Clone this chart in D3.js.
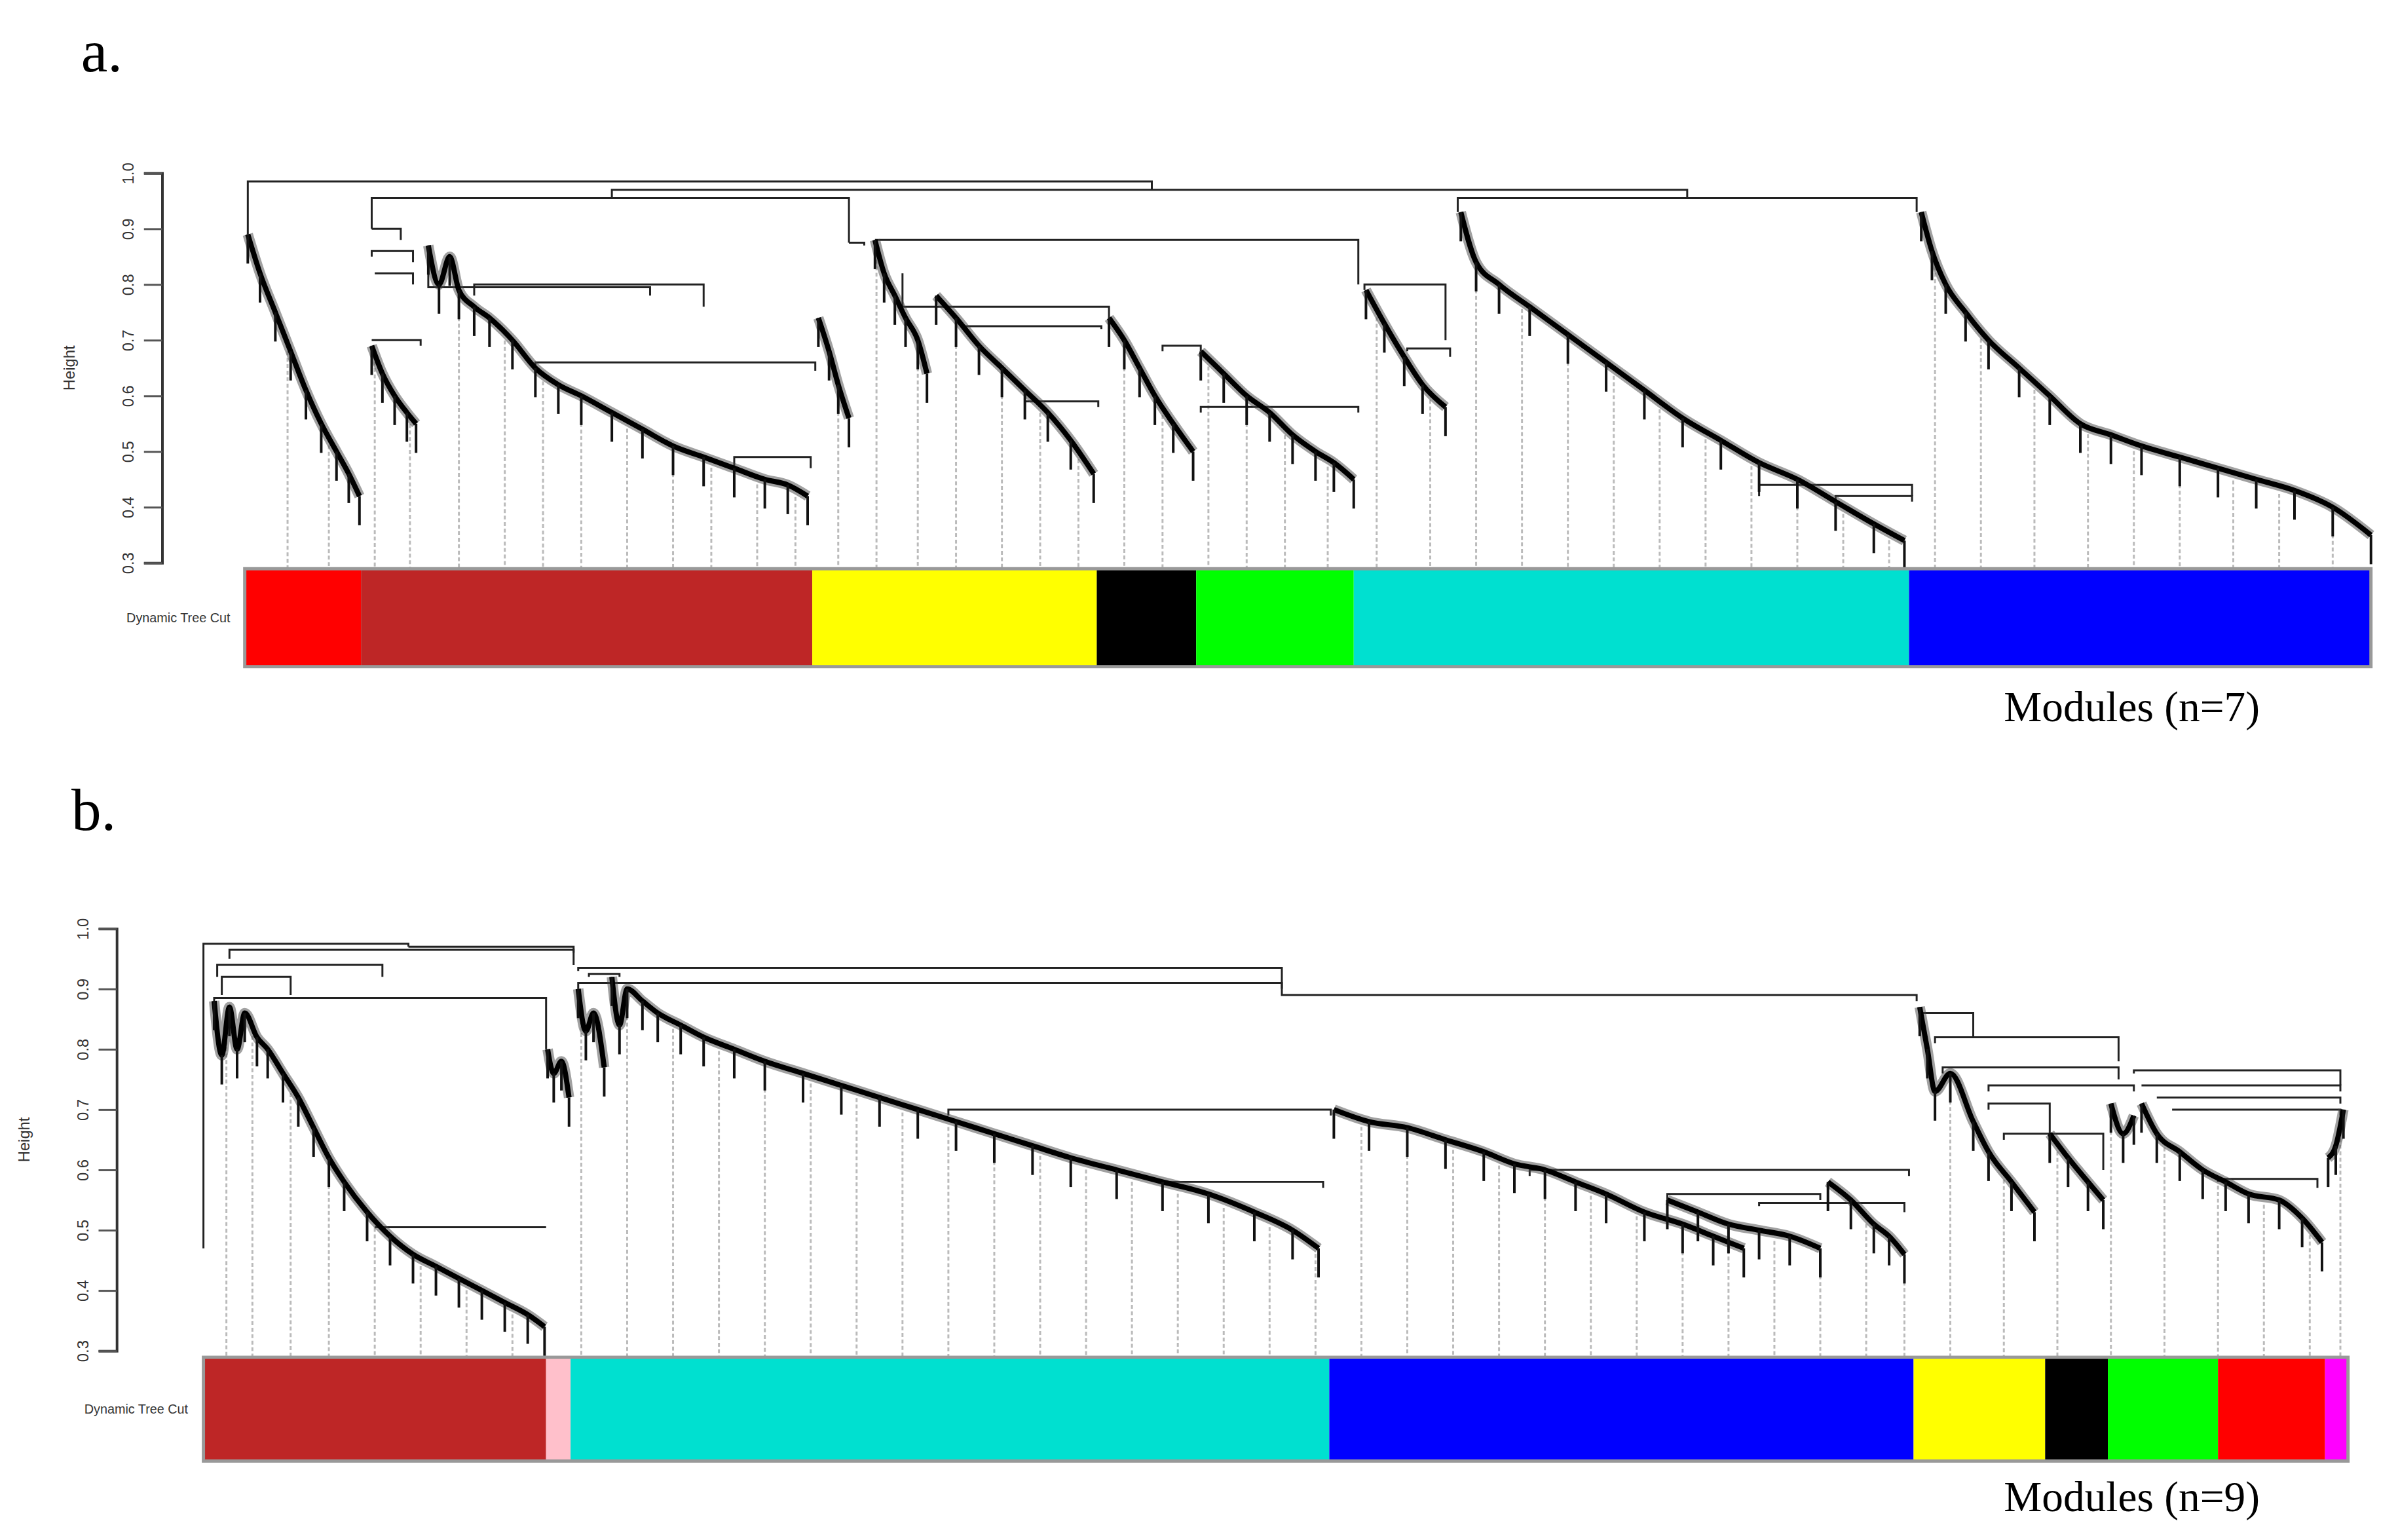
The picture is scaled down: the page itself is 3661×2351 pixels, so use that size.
<!DOCTYPE html>
<html><head><meta charset="utf-8">
<script src="https://cdn.jsdelivr.net/npm/d3@7"></script>
<style>body{margin:0;background:#fff}</style>
</head><body>
<script>
// leaf positions are in "leaf units" (0..1552 across the figure), heights in dendrogram height
var W = 3661, H = 2351;

// ---- panel a ----
var modulesA = [
  {color: "#FF0000", from: 160, to: 236},
  {color: "#BE2626", from: 236, to: 531},
  {color: "#FFFF00", from: 531, to: 717},
  {color: "#000000", from: 717, to: 782},
  {color: "#00FF00", from: 782, to: 885},
  {color: "#00E0D0", from: 885, to: 1248},
  {color: "#0000FF", from: 1248, to: 1550}
];
var curvesA = [
  [[162,.89],[170,.82],[180,.75],[190,.68],[200,.61],[210,.55],[220,.5],[228,.46],[235,.42]],
  [[243,.69],[250,.64],[258,.6],[266,.57],[272,.55]],
  [[280,.87],[287,.8],[294,.85],[300,.79],[310,.76],[320,.74],[335,.7],[350,.65],[365,.62],[380,.6],[400,.57],[420,.54],[440,.51],[460,.49],[480,.47],[500,.45],[515,.44],[528,.42]],
  [[535,.74],[542,.68],[548,.62],[555,.56]],
  [[572,.88],[578,.82],[585,.78],[592,.74],[600,.7],[606,.64]],
  [[612,.78],[625,.74],[640,.69],[655,.65],[670,.61],[685,.57],[700,.52],[715,.46]],
  [[725,.74],[735,.7],[745,.65],[755,.6],[767,.55],[780,.5]],
  [[785,.68],[800,.64],[815,.6],[830,.57],[845,.53],[860,.5],[872,.48],[885,.45]],
  [[893,.79],[905,.73],[918,.67],[930,.62],[945,.58]],
  [[955,.93],[965,.84],[980,.8],[1000,.76],[1025,.71],[1050,.66],[1075,.61],[1100,.56],[1125,.52],[1150,.48],[1175,.45],[1200,.41],[1225,.37],[1245,.34]],
  [[1256,.93],[1263,.86],[1272,.8],[1285,.75],[1300,.7],[1320,.65],[1340,.6],[1360,.55],[1380,.53],[1400,.51],[1425,.49],[1450,.47],[1475,.45],[1500,.43],[1525,.4],[1550,.35]]
];
// merges: [leftLeaf, leftHeight, rightLeaf, rightHeight, mergeHeight]
var mergesA = [
  [162,.89,753,.97,.985],
  [400,.955,1103,.955,.97],
  [243,.9,555,.875,.955],
  [953,.93,1253,.93,.955],
  [555,.875,565,.87,.875],
  [243,.9,262,.88,.9],
  [243,.85,270,.84,.86],
  [245,.82,270,.8,.82],
  [243,.7,275,.69,.7],
  [280,.87,425,.78,.795],
  [310,.78,460,.76,.8],
  [350,.65,533,.645,.66],
  [480,.47,530,.47,.49],
  [572,.88,888,.8,.88],
  [590,.82,725,.74,.76],
  [630,.72,720,.72,.725],
  [670,.58,718,.58,.59],
  [760,.68,785,.68,.69],
  [785,.57,888,.57,.58],
  [892,.79,945,.7,.8],
  [920,.68,948,.67,.685],
  [1150,.42,1250,.42,.44],
  [1200,.41,1250,.41,.42]
];
var guidesA = [188,215,245,268,300,330,355,380,410,440,465,495,520,548,573,600,625,655,680,705,735,760,790,815,840,868,900,935,965,995,1025,1055,1085,1115,1145,1175,1205,1235,1265,1295,1330,1365,1395,1425,1460,1490,1525];

// ---- panel b ----
var modulesB = [
  {color: "#BE2626", from: 133, to: 357},
  {color: "#FFC0CB", from: 357, to: 373},
  {color: "#00E0D0", from: 373, to: 869},
  {color: "#0000FF", from: 869, to: 1251},
  {color: "#FFFF00", from: 1251, to: 1337},
  {color: "#000000", from: 1337, to: 1378},
  {color: "#00FF00", from: 1378, to: 1450},
  {color: "#FF0000", from: 1450, to: 1520},
  {color: "#FF00FF", from: 1520, to: 1535}
];
var curvesB = [
  [[140,.88],[145,.79],[150,.87],[155,.8],[160,.86],[168,.82],[175,.8],[185,.76],[195,.72],[205,.67],[215,.62],[225,.58],[240,.53],[255,.49],[270,.46],[285,.44],[300,.42],[315,.4],[330,.38],[345,.36],[356,.34]],
  [[358,.8],[362,.76],[367,.78],[372,.72]],
  [[378,.9],[383,.83],[388,.86],[395,.77]],
  [[400,.92],[405,.84],[410,.9],[420,.88],[430,.86],[445,.84],[460,.82],[480,.8],[500,.78],[525,.76],[550,.74],[575,.72],[600,.7],[625,.68],[650,.66],[675,.64],[700,.62],[730,.6],[760,.58],[790,.56],[820,.53],[845,.5],[862,.47]],
  [[872,.7],[895,.68],[920,.67],[945,.65],[970,.63],[990,.61],[1010,.6],[1030,.58],[1050,.56],[1075,.53],[1100,.51],[1120,.49],[1140,.47]],
  [[1090,.55],[1110,.53],[1130,.51],[1150,.5],[1170,.49],[1190,.47]],
  [[1195,.58],[1210,.55],[1225,.51],[1235,.49],[1245,.46]],
  [[1255,.87],[1260,.8],[1265,.73],[1275,.76],[1290,.68],[1300,.63],[1315,.58],[1330,.53]],
  [[1340,.66],[1352,.62],[1365,.58],[1375,.55]],
  [[1380,.71],[1388,.66],[1395,.69]],
  [[1400,.71],[1410,.66],[1425,.63],[1440,.6],[1455,.58],[1470,.56],[1490,.55],[1505,.52],[1518,.48]],
  [[1522,.62],[1527,.64],[1532,.7]]
];
var mergesB = [
  [133,.47,267,.97,.975],
  [267,.97,375,.96,.97],
  [150,.95,375,.94,.965],
  [142,.92,250,.92,.94],
  [145,.89,190,.89,.92],
  [140,.88,357,.8,.885],
  [245,.505,357,.505,.505],
  [378,.93,838,.9,.935],
  [385,.92,405,.92,.925],
  [400,.92,838,.9,.91],
  [838,.9,1253,.88,.89],
  [378,.9,400,.9,.91],
  [620,.69,870,.69,.7],
  [760,.57,865,.57,.58],
  [1000,.59,1248,.59,.6],
  [1090,.55,1190,.55,.56],
  [1150,.54,1245,.53,.545],
  [1255,.85,1290,.82,.86],
  [1265,.81,1385,.78,.82],
  [1270,.76,1385,.75,.77],
  [1300,.73,1395,.73,.74],
  [1300,.7,1340,.66,.71],
  [1310,.65,1375,.6,.66],
  [1395,.76,1530,.74,.765],
  [1400,.74,1530,.73,.74],
  [1410,.72,1530,.71,.72],
  [1420,.7,1530,.69,.7],
  [1450,.58,1515,.57,.585]
];
var guidesB = [148,165,190,215,245,275,305,335,380,410,440,470,500,530,560,590,620,650,680,710,740,770,800,830,860,890,920,950,980,1010,1040,1070,1100,1130,1160,1190,1220,1245,1275,1310,1345,1380,1415,1450,1480,1510,1530];

var tickValues = [0.3,0.4,0.5,0.6,0.7,0.8,0.9,1.0];

var panels = [
  {label: "a.", labelX: 125, labelY: 110, axisX: 250, yTop: 267, yBot: 868, barTop: 877, barBot: 1028,
   cutX: 355, modTxt: "Modules (n=7)", modY: 1112, modules: modulesA, curves: curvesA, merges: mergesA, guides: guidesA},
  {label: "b.", labelX: 110, labelY: 1280, axisX: 180, yTop: 1432, yBot: 2083, barTop: 2093, barBot: 2253,
   cutX: 290, modTxt: "Modules (n=9)", modY: 2330, modules: modulesB, curves: curvesB, merges: mergesB, guides: guidesB}
];

var x = d3.scaleLinear().domain([0, 1552]).range([0, W]);

var svg = d3.select("body").append("svg").attr("width", W).attr("height", H)
  .style("font-family", "Liberation Sans, sans-serif");
var root = svg.append("g").attr("transform", "scale(0.99)");

panels.forEach(function(p) {
  var y = d3.scaleLinear().domain([0.3, 1.0]).range([p.yBot, p.yTop]);
  var g = root.append("g");

  g.append("text").attr("x", p.labelX).attr("y", p.labelY)
    .style("font-family", "Liberation Serif, serif").style("font-size", "92px").text(p.label);

  // axis
  var ax = g.append("g").attr("transform", "translate(" + p.axisX + ",0)")
    .call(d3.axisLeft(y).tickValues(tickValues).tickSize(28).tickFormat(d3.format(".1f")));
  ax.select(".domain").attr("stroke", "#333").attr("stroke-width", 4);
  ax.selectAll(".tick line").attr("stroke", "#555").attr("stroke-width", 3);
  ax.selectAll(".tick text").attr("transform", "rotate(-90)").attr("x", 0).attr("y", -52)
    .attr("dy", "0.35em").attr("text-anchor", "middle").style("font-size", "24px").attr("fill", "#333");
  g.append("text").attr("transform", "translate(" + (p.axisX - 135) + "," + ((p.yTop + p.yBot) / 2) + ") rotate(-90)")
    .attr("text-anchor", "middle").style("font-size", "24px").attr("fill", "#333").text("Height");

  var curveAt = function(lx) {
    var best = null;
    p.curves.forEach(function(c) {
      if (lx >= c[0][0] - 2 && lx <= c[c.length - 1][0] + 2) {
        var i = d3.bisector(function(d) { return d[0]; }).left(c, lx);
        var a = c[Math.max(0, i - 1)], b = c[Math.min(c.length - 1, i)];
        var h = a[0] === b[0] ? a[1] : a[1] + (b[1] - a[1]) * (lx - a[0]) / (b[0] - a[0]);
        best = best === null ? h : Math.min(best, h);
      }
    });
    return best === null ? 0.5 : best;
  };

  // dotted guide lines from leaves to colour bar
  g.append("g").selectAll("line").data(p.guides).join("line")
    .attr("x1", function(d) { return x(d); }).attr("x2", function(d) { return x(d); })
    .attr("y1", function(d) { return y(curveAt(d)) + 12; }).attr("y2", p.barTop)
    .attr("stroke", "#bbb").attr("stroke-width", 3).attr("stroke-dasharray", "6,4");

  // merge brackets
  g.append("g").selectAll("path").data(p.merges).join("path")
    .attr("d", function(m) {
      return "M" + x(m[0]) + "," + y(m[1]) + "V" + y(m[4]) + "H" + x(m[2]) + "V" + y(m[3]);
    })
    .attr("fill", "none").attr("stroke", "#222").attr("stroke-width", 3);

  // dense branch curves
  var line = d3.line().x(function(d) { return x(d[0]); }).y(function(d) { return y(d[1]); }).curve(d3.curveMonotoneX);
  g.append("g").selectAll("path.outer").data(p.curves).join("path")
    .attr("d", line).attr("fill", "none").attr("stroke", "#444").attr("stroke-width", 16).attr("opacity", 0.5);
  g.append("g").selectAll("path.inner").data(p.curves).join("path")
    .attr("d", line).attr("fill", "none").attr("stroke", "#000").attr("stroke-width", 8);
  // leaf spikes under each branch point
  var spikes = [];
  p.curves.forEach(function(c) { c.forEach(function(d) { spikes.push(d); }); });
  g.append("g").selectAll("line").data(spikes).join("line")
    .attr("x1", function(d) { return x(d[0]); }).attr("x2", function(d) { return x(d[0]); })
    .attr("y1", function(d) { return y(d[1]); }).attr("y2", function(d) { return y(d[1]) + 45; })
    .attr("stroke", "#111").attr("stroke-width", 4);

  // colour bar
  var bar = g.append("g");
  bar.selectAll("rect").data(p.modules).join("rect")
    .attr("x", function(d) { return x(d.from); }).attr("width", function(d) { return x(d.to) - x(d.from); })
    .attr("y", p.barTop).attr("height", p.barBot - p.barTop).attr("fill", function(d) { return d.color; });
  bar.append("rect").attr("x", x(p.modules[0].from)).attr("y", p.barTop)
    .attr("width", x(p.modules[p.modules.length - 1].to) - x(p.modules[0].from)).attr("height", p.barBot - p.barTop)
    .attr("fill", "none").attr("stroke", "#999").attr("stroke-width", 5);
  g.append("text").attr("x", p.cutX).attr("y", (p.barTop + p.barBot) / 2).attr("dy", "0.35em")
    .attr("text-anchor", "end").style("font-size", "20px").attr("fill", "#333").text("Dynamic Tree Cut");

  g.append("text").attr("x", x(1310)).attr("y", p.modY)
    .style("font-family", "Liberation Serif, serif").style("font-size", "66px").text(p.modTxt);
});
</script>
</body></html>
